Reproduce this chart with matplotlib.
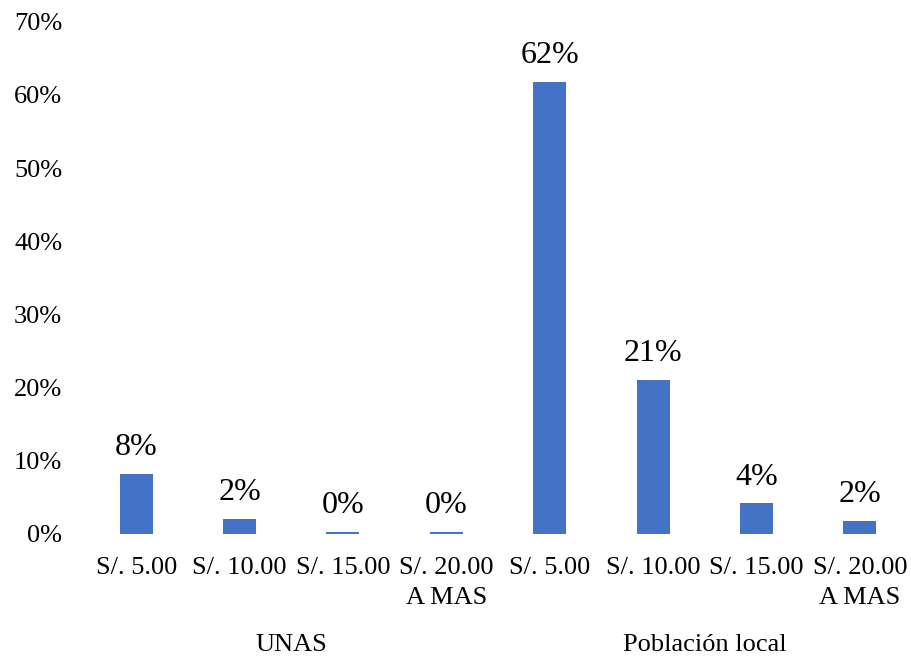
import matplotlib
matplotlib.use("Agg")
import matplotlib.pyplot as plt
from matplotlib.ticker import FuncFormatter

plt.rcParams["font.family"] = ["Liberation Serif", "DejaVu Serif"]

# Price categories and share of respondents for each group
categories = ["S/. 5.00", "S/. 10.00", "S/. 15.00", "S/. 20.00\nA MAS",
              "S/. 5.00", "S/. 10.00", "S/. 15.00", "S/. 20.00\nA MAS"]
shares = [0.082, 0.021, 0.003, 0.003, 0.618, 0.2105, 0.042, 0.018]
groups = ["UNAS", "Población local"]
group_size = 4
y_ticks = [0.0, 0.1, 0.2, 0.3, 0.4, 0.5, 0.6, 0.7]

bar_color = "#4472C4"

fig = plt.figure(figsize=(9.12, 6.61), dpi=100)
ax = fig.add_axes([84.5 / 912, 127 / 661, 827 / 912, 512.3 / 661])

x = list(range(len(categories)))
bars = ax.bar(x, shares, width=0.32, color=bar_color)

for xi, v in zip(x, shares):
    ax.annotate(f"{v:.0%}", xy=(xi, v), xytext=(0, 13.5), textcoords="offset points",
                ha="center", va="baseline", fontsize=23)

ax.set_xlim(-0.5, len(categories) - 0.5)
ax.set_ylim(0, 0.7)
ax.set_yticks(y_ticks)
ax.yaxis.set_major_formatter(FuncFormatter(lambda v, _: f"{v:.0%}"))
ax.set_xticks(x)
ax.set_xticklabels(categories, fontsize=19, linespacing=1.45)
ax.tick_params(axis="y", length=0, pad=16, labelsize=19)
ax.tick_params(axis="x", length=0, pad=16.5)

for s in ax.spines.values():
    s.set_visible(False)

# Group labels below the category labels
for i, g in enumerate(groups):
    center = i * group_size + (group_size - 1) / 2
    ax.annotate(g, xy=(center, 0), xycoords=("data", "axes fraction"),
                xytext=(0, -80), textcoords="offset points",
                ha="center", va="center", fontsize=19)

fig.savefig("out.png", dpi=100)
